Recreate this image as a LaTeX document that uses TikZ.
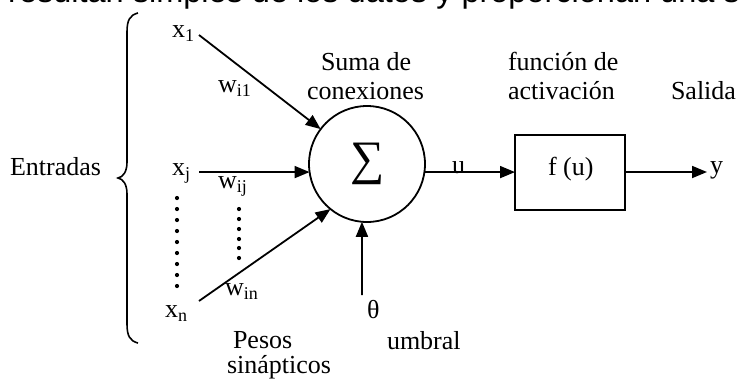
\documentclass[tikz,border=0pt]{standalone}
\usepackage{fontspec}
\setmainfont{Liberation Serif}
\newfontfamily\topsans{Liberation Sans}
\usetikzlibrary{arrows.meta}
\newcommand{\sbs}[1]{\raisebox{-4.5pt}{\fontsize{18}{18}\selectfont #1}}
\begin{document}
\begin{tikzpicture}[x=1pt,y=-1pt,
  lbl/.style={anchor=base west, inner sep=0, outer sep=0, font=\fontsize{26}{30}\selectfont},
  arr/.style={line width=1.8pt, -{Triangle[length=15pt,width=12pt]}},
  ln/.style={line width=1.8pt}]
\useasboundingbox (0,0) rectangle (739,384);
\begin{scope}
\clip (0,0) rectangle (739,384);
\node[anchor=base west, inner sep=0, font=\topsans\fontsize{32.5}{36}\selectfont] (toptext) at (8,2) {resultan simples de los datos y proporcionan una salida};
\end{scope}
% brace and Entradas
\draw[line width=1.6pt] (138,13) .. controls (130,15) and (127,20) .. (127,32) -- (127,162) .. controls (127,172) and (123,177) .. (118,178) .. controls (123,179) and (127,184) .. (127,194) -- (127,324) .. controls (127,336) and (130,341) .. (138,343);
\node[lbl] (entradas) at (10,175) {Entradas};
% inputs
\node[lbl] (x1) at (172,37) {x\sbs{1}};
\node[lbl] (xj) at (172,175) {x\sbs{j}};
\node[lbl] (xn) at (165,317) {x\sbs{n}};
\node[lbl] (wi1) at (218,92) {w\sbs{i1}};
\node[lbl] (wij) at (218,188) {w\sbs{ij}};
\node[lbl] (win) at (225,295) {w\sbs{in}};
\foreach \yy in {198,209,220,231,242,253,264,275,286} \fill (177,\yy) circle (2.1);
\foreach \yy in {209,219,229,239,248,258} \fill (239,\yy) circle (2.1);
% summation
\node[circle, draw, line width=1.8pt, minimum size=116pt, inner sep=0, outer sep=0] (sum) at (367,164) {};
\node[inner sep=0, font=\fontsize{48}{48}\selectfont] (sig) at (368,164) {∑};
\coordinate (s1) at (199,35);
\coordinate (sj) at (199,172);
\coordinate (sn) at (199,301);
\coordinate (st) at (362,295);
\draw[arr] (s1) -- (sum.143);
\draw[arr] (sj) -- (sum.188);
\draw[arr] (sn) -- (sum.231);
\draw[arr] (st) -- (sum.265);
\node[lbl] (theta) at (367,318) {θ};
\node[lbl] (umbral) at (387,349) {umbral};
\node[lbl] (pesos) at (233,348) {Pesos};
\node[lbl] (sinap) at (227,373) {sinápticos};
\node[lbl] (suma) at (321,70) {Suma de};
\node[lbl] (conex) at (307,99) {conexiones};
% activation
\node[draw, line width=1.8pt, minimum width=110pt, minimum height=75pt, inner sep=0, outer sep=0] (box) at (570,172.5) {};
\node[lbl] (fu) at (548,175) {f (u)};
\draw[arr] (sum.352) -- (sum.352 -| box.west);
\node[lbl] (u) at (452,173) {u};
\coordinate (yend) at (707,172);
\draw[arr] (box.east |- yend) -- (yend);
\node[lbl] (y) at (710,173) {y};
\node[lbl] (func) at (508,70) {función de};
\node[lbl] (activ) at (508,99) {activación};
\node[lbl] (salida) at (671,99) {Salida};
\end{tikzpicture}
\end{document}
